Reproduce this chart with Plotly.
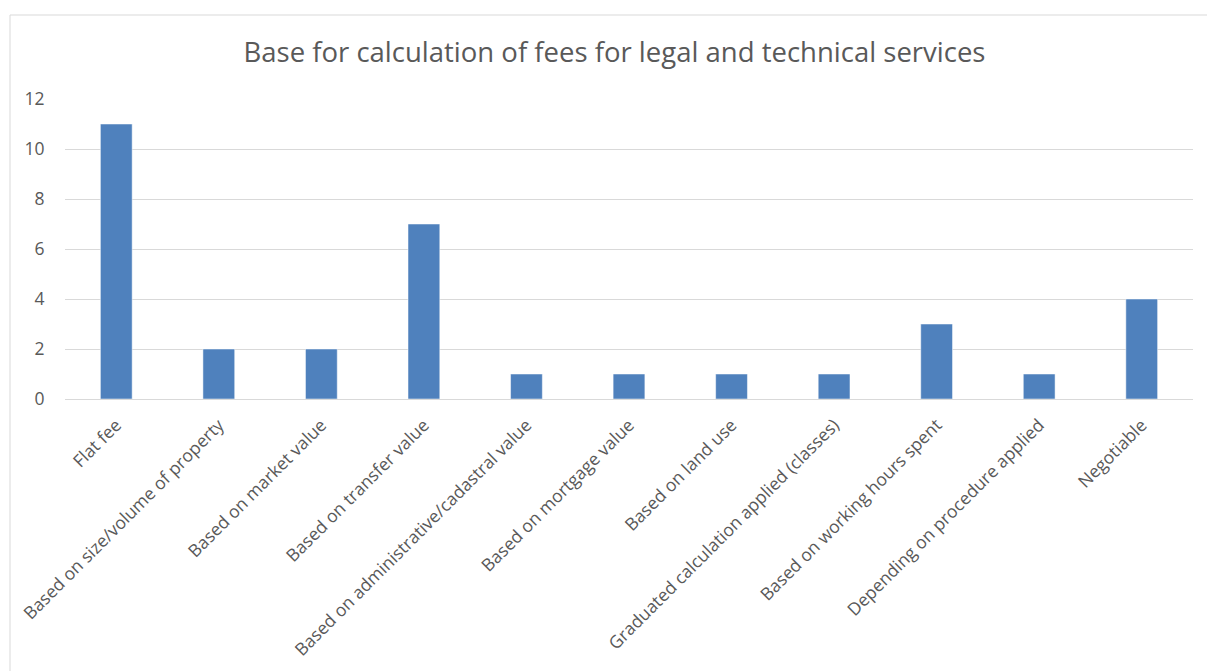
import plotly.graph_objects as go

categories = [
    "Flat fee",
    "Based on size/volume of property",
    "Based on market value",
    "Based on transfer value",
    "Based on administrative/cadastral value",
    "Based on mortgage value",
    "Based on land use",
    "Graduated calculation applied (classes)",
    "Based on working hours spent",
    "Depending on procedure applied",
    "Negotiable",
]
counts = [11, 2, 2, 7, 1, 1, 1, 1, 3, 1, 4]
y_ticks = [0, 2, 4, 6, 8, 10, 12]

W, H = 1207, 671
L, R, T, B = 65, 14, 99, 272
pw, ph = W - L - R, H - T - B

FONT = "Open Sans"
TEXT = "#595959"
GRID = "#d9d9d9"

fig = go.Figure(
    go.Bar(
        x=categories,
        y=counts,
        marker=dict(color="#4F81BD", line=dict(color="#ffffff", width=0.5)),
        hoverinfo="x+y",
    )
)

fig.update_layout(
    width=W,
    height=H,
    margin=dict(l=L, r=R, t=T, b=B),
    paper_bgcolor="white",
    plot_bgcolor="white",
    bargap=0.69,
    showlegend=False,
    title=dict(
        text="Base for calculation of fees for legal and technical services",
        font=dict(family=FONT, size=27.5, color=TEXT),
        xref="container",
        x=614.5 / W,
        xanchor="center",
        yref="container",
        y=1 - 52 / H,
        yanchor="middle",
    ),
    font=dict(family=FONT, color=TEXT),
)

fig.update_xaxes(
    type="category",
    tickangle=-45,
    tickfont=dict(family=FONT, size=17.5, color=TEXT),
    showgrid=False,
    showline=False,
    zeroline=False,
    ticks="outside",
    ticklen=8,
    tickcolor="rgba(0,0,0,0)",
)

fig.update_yaxes(
    range=[0, 12],
    tickvals=y_ticks,
    tickfont=dict(family=FONT, size=17.5, color=TEXT),
    showgrid=True,
    gridcolor=GRID,
    gridwidth=1,
    zeroline=True,
    zerolinecolor=GRID,
    zerolinewidth=1,
    showline=False,
    ticks="outside",
    ticklen=16,
    tickcolor="rgba(0,0,0,0)",
)

# outer chart frame
fig.add_shape(
    type="rect",
    xref="paper",
    yref="paper",
    x0=(10 - L) / pw,
    x1=(W + 20 - L) / pw,
    y0=-(H + 20 - (H - B)) / ph,
    y1=((H - B) - 15) / ph,
    line=dict(color=GRID, width=1),
    fillcolor="rgba(0,0,0,0)",
    layer="below",
)

fig.write_html("out.html")
